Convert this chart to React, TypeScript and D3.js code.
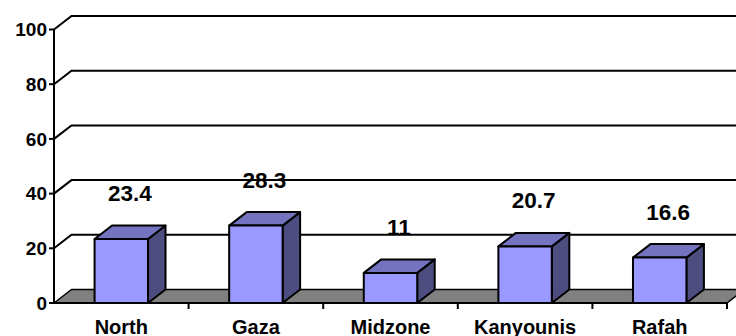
import React from "react";
import * as d3 from "d3";

const categories = ["North", "Gaza", "Midzone", "Kanyounis", "Rafah"];
const values = [23.4, 28.3, 11, 20.7, 16.6];
const yTicks = [0, 20, 40, 60, 80, 100];

const W = 736;
const H = 336;
const left = 54;
const right = 727;
const y0 = 303;
const yTop = 29.5;
const DX = 17.5;
const DY = -13.5;

const FONT = "Arial, 'Liberation Sans', sans-serif";

export default function App() {
  const x = d3.scaleBand<string>().domain(categories).range([left, right]).padding(0);
  const y = d3.scaleLinear().domain([0, 100]).range([y0, yTop]);
  const barW = x.bandwidth() * 0.397;

  const pts = (arr: [number, number][]) => arr.map((p) => p.join(",")).join(" ");

  return (
    <svg
      width={W}
      height={H}
      style={{ position: "absolute", left: 0, top: 0, background: "#fff" }}
      fontFamily={FONT}
    >
      {/* back wall gridlines with diagonal to the front axis */}
      {yTicks.slice(1).map((t) => (
        <polyline
          key={"g" + t}
          points={pts([
            [left, y(t)],
            [left + DX, y(t) + DY],
            [right + DX + 10, y(t) + DY],
          ])}
          fill="none"
          stroke="#000"
          strokeWidth={2}
        />
      ))}
      {/* floor */}
      <polygon
        points={pts([
          [left, y0],
          [left + DX, y0 + DY],
          [right + DX, y0 + DY],
          [right, y0],
        ])}
        fill="#808080"
        stroke="#000"
        strokeWidth={1.5}
        strokeLinejoin="round"
      />
      {/* 3D columns */}
      {categories.map((c, i) => {
        const cx = (x(c) as number) + x.bandwidth() / 2;
        const x1 = cx - barW / 2;
        const x2 = cx + barW / 2;
        const yt = y(values[i]);
        return (
          <g key={c} stroke="#000" strokeWidth={2} strokeLinejoin="round">
            <polygon
              points={pts([
                [x2, yt],
                [x2 + DX, yt + DY],
                [x2 + DX, y0 + DY],
                [x2, y0],
              ])}
              fill="#4D4D80"
            />
            <polygon
              points={pts([
                [x1, yt],
                [x1 + DX, yt + DY],
                [x2 + DX, yt + DY],
                [x2, yt],
              ])}
              fill="#7373BF"
            />
            <rect x={x1} y={yt} width={barW} height={y0 - yt} fill="#9999FF" />
          </g>
        );
      })}
      {/* front value axis */}
      <line x1={left} x2={left} y1={y0} y2={y(100)} stroke="#000" strokeWidth={2} />
      {yTicks.map((t) => (
        <g key={"t" + t}>
          <line x1={left - 5} x2={left} y1={y(t)} y2={y(t)} stroke="#000" strokeWidth={2} />
          <text
            x={left - 7}
            y={y(t)}
            dy="0.36em"
            textAnchor="end"
            fontSize={19}
            fontWeight="bold"
          >
            {t}
          </text>
        </g>
      ))}
      {/* category axis */}
      <line x1={left} x2={right} y1={y0} y2={y0} stroke="#000" strokeWidth={2} />
      {categories.map((c, i) => (
        <line
          key={"ct" + i}
          x1={(x(c) as number) + x.bandwidth()}
          x2={(x(c) as number) + x.bandwidth()}
          y1={y0}
          y2={y0 + 6}
          stroke="#000"
          strokeWidth={2}
        />
      ))}
      {categories.map((c) => (
        <text
          key={"cl" + c}
          x={(x(c) as number) + x.bandwidth() / 2}
          y={333.5}
          textAnchor="middle"
          fontSize={20}
          fontWeight="bold"
        >
          {c}
        </text>
      ))}
      {/* value labels */}
      {categories.map((c, i) => (
        <text
          key={"v" + c}
          x={(x(c) as number) + x.bandwidth() / 2 + 8.5}
          y={y(values[i]) - 38}
          textAnchor="middle"
          fontSize={22.5}
          fontWeight="bold"
        >
          {values[i]}
        </text>
      ))}
    </svg>
  );
}
